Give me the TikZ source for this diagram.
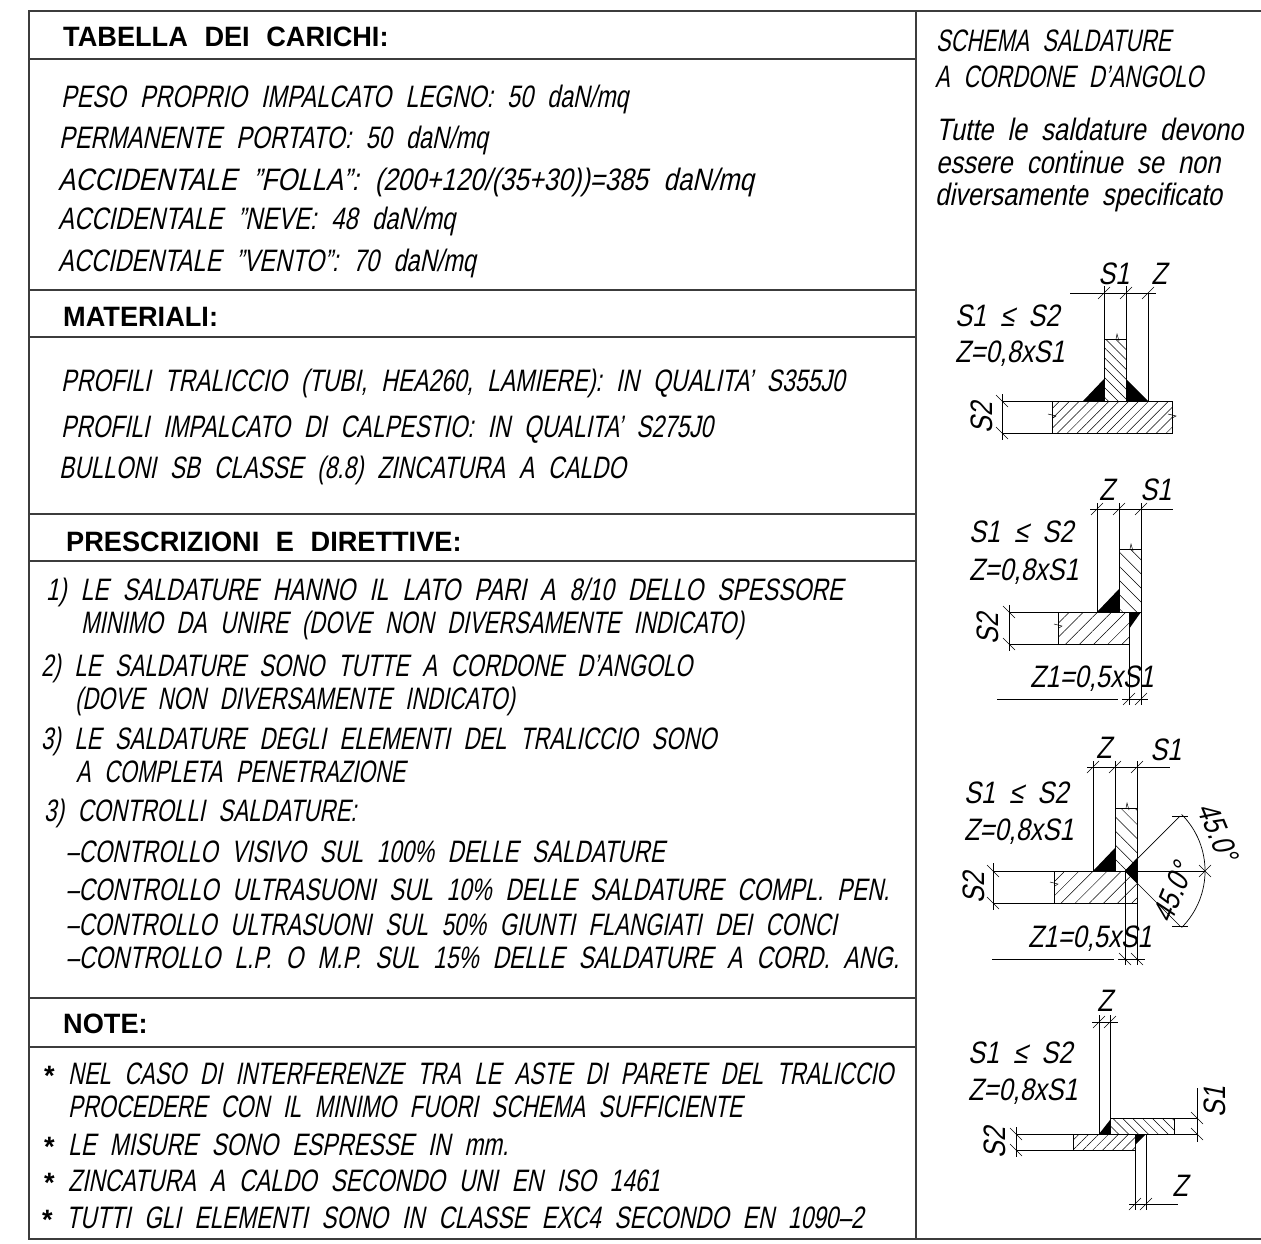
\documentclass[tikz,border=0pt]{standalone}
\usepackage{graphicx}
\usepackage{fontspec}
\usetikzlibrary{patterns.meta}
\newfontfamily\cadital[FakeSlant=0.2,FakeStretch=0.73,WordSpace=2.2]{Liberation Sans}
\newfontfamily\cadnote[FakeSlant=0.2,FakeStretch=0.82,WordSpace=2.0]{Liberation Sans}
\newfontfamily\cadhead[FakeStretch=0.97,WordSpace=2.2]{Liberation Sans}
\newcommand{\fitrow}[2]{\scalebox{#1}[1]{#2}}
\definecolor{frameline}{RGB}{60, 60, 60}

\begin{document}
\begin{tikzpicture}[
        x=1pt, y=-1pt,
        rowtext/.style={anchor=base west, inner sep=0pt, font=\cadital\fontsize{31}{31}\selectfont},
        notetext/.style={anchor=base west, inner sep=0pt, font=\cadnote\fontsize{31}{31}\selectfont},
        headtext/.style={anchor=base west, inner sep=0pt, font=\cadhead\bfseries\fontsize{28}{28}\selectfont},
        dimtext/.style={inner sep=0pt, font=\cadnote\fontsize{31}{31}\selectfont},
        frameedge/.style={draw=frameline, line width=1.3pt},
        member/.style={draw=black, line width=0.9pt},
        thinline/.style={draw=black, line width=0.7pt},
        dimtick/.style={draw=black, line width=0.5pt},
        weld/.style={fill=black},
        hatchfine/.style={pattern={Lines[angle=45,distance=7pt,line width=0.5pt]}},
        hatchback/.style={pattern={Lines[angle=-45,distance=7pt,line width=0.5pt]}},
        hatchwide/.style={pattern={Lines[angle=45,distance=10pt,line width=0.5pt]}},
        hatchwideback/.style={pattern={Lines[angle=-45,distance=10pt,line width=0.5pt]}}
    ]
        \useasboundingbox (0,0) rectangle (1261,1243);

        % table frame
        \draw[frameedge] (1261,11) -- (29,11) -- (29,1239) -- (1261,1239);
        \draw[frameedge] (916,11) -- (916,1239);
        \foreach \y in {59,290,337,514,561,998,1047}
            \draw[frameedge] (29,\y) -- (916,\y);

        % loads
        \node[headtext] (loadshead) at (63,46) {TABELLA DEI CARICHI:};
        \node[rowtext] (selfweight) at (61,107) {\fitrow{1.025}{PESO PROPRIO IMPALCATO LEGNO: 50 daN/mq}};
        \node[rowtext] (permanent) at (59,148) {\fitrow{1.034}{PERMANENTE PORTATO: 50 daN/mq}};
        \node[rowtext] (crowd) at (58,190) {\fitrow{1.14}{ACCIDENTALE ”FOLLA”: (200+120/(35+30))=385 daN/mq}};
        \node[rowtext] (snow) at (58,229) {\fitrow{1.05}{ACCIDENTALE ”NEVE: 48 daN/mq}};
        \node[rowtext] (wind) at (58,271) {\fitrow{1.04}{ACCIDENTALE ”VENTO”: 70 daN/mq}};

        % materials
        \node[headtext] (materialshead) at (63,326) {MATERIALI:};
        \node[rowtext] (matone) at (61,391) {\fitrow{1.014}{PROFILI TRALICCIO (TUBI, HEA260, LAMIERE): IN QUALITA’ S355J0}};
        \node[rowtext] (mattwo) at (61,437) {PROFILI IMPALCATO DI CALPESTIO: IN QUALITA’ S275J0};
        \node[rowtext] (matthree) at (59,478) {BULLONI SB CLASSE (8.8) ZINCATURA A CALDO};

        % prescriptions
        \node[headtext] (rulehead) at (66,551) {PRESCRIZIONI E DIRETTIVE:};
        \node[rowtext] (ruleonea) at (46,600) {\fitrow{1.013}{1) LE SALDATURE HANNO IL LATO PARI A 8/10 DELLO SPESSORE}};
        \node[rowtext] (ruleoneb) at (81,633) {\fitrow{0.97}{MINIMO DA UNIRE (DOVE NON DIVERSAMENTE INDICATO)}};
        \node[rowtext] (ruletwoa) at (41,676) {\fitrow{0.976}{2) LE SALDATURE SONO TUTTE A CORDONE D’ANGOLO}};
        \node[rowtext] (ruletwob) at (75,709) {\fitrow{0.965}{(DOVE NON DIVERSAMENTE INDICATO)}};
        \node[rowtext] (rulethreea) at (41,749) {\fitrow{0.977}{3) LE SALDATURE DEGLI ELEMENTI DEL TRALICCIO SONO}};
        \node[rowtext] (rulethreeb) at (76,782) {\fitrow{0.964}{A COMPLETA PENETRAZIONE}};
        \node[rowtext] (checkhead) at (44,821) {\fitrow{0.983}{3) CONTROLLI SALDATURE:}};
        \node[rowtext] (checkone) at (66,862) {\fitrow{0.988}{–CONTROLLO VISIVO SUL 100\% DELLE SALDATURE}};
        \node[rowtext] (checktwo) at (66,900) {\fitrow{0.993}{–CONTROLLO ULTRASUONI SUL 10\% DELLE SALDATURE COMPL. PEN.}};
        \node[rowtext] (checkthree) at (66,935) {\fitrow{0.98}{–CONTROLLO ULTRASUONI SUL 50\% GIUNTI FLANGIATI DEI CONCI}};
        \node[rowtext] (checkfour) at (66,968) {\fitrow{1.005}{–CONTROLLO L.P. O M.P. SUL 15\% DELLE SALDATURE A CORD. ANG.}};

        % notes
        \node[headtext] (noteshead) at (63,1033) {NOTE:};
        \node[headtext] (starone) at (44,1085) {*};
        \node[rowtext] (noteonea) at (68,1084) {\fitrow{0.97}{NEL CASO DI INTERFERENZE TRA LE ASTE DI PARETE DEL TRALICCIO}};
        \node[rowtext] (noteoneb) at (68,1117) {\fitrow{0.97}{PROCEDERE CON IL MINIMO FUORI SCHEMA SUFFICIENTE}};
        \node[headtext] (startwo) at (44,1156) {*};
        \node[rowtext] (notetwo) at (68,1155) {LE MISURE SONO ESPRESSE IN mm.};
        \node[headtext] (starthree) at (44,1192) {*};
        \node[rowtext] (notethree) at (68,1191) {ZINCATURA A CALDO SECONDO UNI EN ISO 1461};
        \node[headtext] (starfour) at (42,1229) {*};
        \node[rowtext] (notefour) at (66,1228) {TUTTI GLI ELEMENTI SONO IN CLASSE EXC4 SECONDO EN 1090–2};

        % right column
        \node[rowtext] (schemaa) at (936,51) {\fitrow{0.96}{SCHEMA SALDATURE}};
        \node[rowtext] (schemab) at (935,87) {\fitrow{0.97}{A CORDONE D’ANGOLO}};
        \node[notetext] (weldnotea) at (936,140) {Tutte le saldature devono};
        \node[notetext] (weldnoteb) at (936,173) {essere continue se non};
        \node[notetext] (weldnotec) at (935,205) {diversamente specificato};

        % first joint
        \draw[member, hatchback] (1104,339) rectangle (1126,401);
        \draw[member, hatchfine] (1052,401) rectangle (1172,433);
        \fill[weld] (1083,401) -- (1104,401) -- (1104,379) -- cycle;
        \fill[weld] (1126,401) -- (1148,401) -- (1126,379) -- cycle;
        \draw[thinline] (1104,286) -- (1104,339) (1126,286) -- (1126,339) (1148,293) -- (1148,401);
        \draw[thinline] (1070,293) -- (1156,293);
        \draw[thinline] (1002,401) -- (1052,401) (1002,433) -- (1052,433) (1002,394) -- (1002,440);
        \foreach \p in {(1104,293),(1126,293),(1148,293)}
            \draw[dimtick] \p ++(-6,6) -- ++(12,-12);
        \foreach \p in {(1002,401),(1002,433)}
            \draw[dimtick] \p ++(-6,-6) -- ++(12,12);
        \draw[dimtick] (1116,339) -- (1117,334) -- (1119,341);
        \draw[dimtick] (1048,414) -- (1056,416) -- (1053,418);
        \draw[dimtick] (1168,414) -- (1176,416) -- (1172,418);
        \node[dimtext] (sonea) at (1114,274) {S1};
        \node[dimtext] (zeda) at (1159,274) {Z};
        \node[notetext] (ruleaa) at (955,326) {S1 ≤ S2};
        \node[notetext] (ruleab) at (955,362) {Z=0,8xS1};
        \node[dimtext, rotate=90] (stwoa) at (982,418) {S2};

        % second joint
        \draw[member, hatchwideback] (1119,549) rectangle (1141,612);
        \draw[member, hatchwide] (1058,612) rectangle (1129,644);
        \fill[weld] (1097,612) -- (1119,612) -- (1119,589) -- cycle;
        \fill[weld] (1129,612) -- (1141,612) -- (1129,629) -- cycle;
        \draw[thinline] (1097,503) -- (1097,612) (1119,503) -- (1119,549) (1141,503) -- (1141,705) (1129,644) -- (1129,705);
        \draw[thinline] (1090,509) -- (1173,509);
        \draw[thinline] (997,699) -- (1118,699) (1122,699) -- (1148,699);
        \draw[thinline] (1009,612) -- (1058,612) (1009,644) -- (1058,644) (1009,605) -- (1009,651);
        \foreach \p in {(1097,509),(1119,509),(1141,509),(1129,699),(1141,699)}
            \draw[dimtick] \p ++(-6,6) -- ++(12,-12);
        \foreach \p in {(1009,612),(1009,644)}
            \draw[dimtick] \p ++(-6,-6) -- ++(12,12);
        \draw[dimtick] (1130,549) -- (1131,544) -- (1133,551);
        \draw[dimtick] (1054,624) -- (1062,626) -- (1059,628);
        \node[dimtext] (zedb) at (1107,490) {Z};
        \node[dimtext] (soneb) at (1156,490) {S1};
        \node[notetext] (ruleba) at (969,542) {S1 ≤ S2};
        \node[notetext] (rulebb) at (969,580) {Z=0,8xS1};
        \node[dimtext, rotate=90] (stwob) at (988,629) {S2};
        \node[notetext] (zonea) at (1030,687) {Z1=0,5xS1};

        % third joint
        \draw[member, hatchwideback] (1115,808) rectangle (1137,871);
        \draw[member, hatchwide] (1054,871) rectangle (1137,903);
        \fill[weld] (1093,871) -- (1115,871) -- (1115,848) -- cycle;
        \fill[weld] (1125,871) -- (1137,858) -- (1137,883) -- cycle;
        \draw[thinline] (1093,761) -- (1093,871) (1115,761) -- (1115,808) (1137,761) -- (1137,965) (1125,871) -- (1125,965);
        \draw[thinline] (1087,767) -- (1170,767);
        \draw[thinline] (992,959) -- (1114,959) (1118,959) -- (1145,959);
        \draw[thinline] (993,871) -- (1054,871) (993,903) -- (1054,903) (993,863) -- (993,910);
        \draw[thinline] (1125,871) -- (1180,816) (1125,871) -- (1180,926);
        \draw[member] (1125,871) -- (1205,871);
        \draw[thinline] (1181.6,814.4) arc[start angle=-45, end angle=45, radius=80];
        \draw[thinline] (1172,816) -- (1188,816) (1172,926) -- (1188,926);
        \foreach \p in {(1093,767),(1115,767),(1137,767),(1205,871)}
            \draw[dimtick] \p ++(-6,6) -- ++(12,-12);
        \foreach \p in {(993,871),(993,903),(1125,959),(1137,959),(1205,871)}
            \draw[dimtick] \p ++(-6,-6) -- ++(12,12);
        \draw[dimtick] (1126,808) -- (1127,803) -- (1129,810);
        \draw[dimtick] (1050,882) -- (1058,884) -- (1055,886);
        \node[dimtext] (zedc) at (1104,748) {Z};
        \node[dimtext] (sonec) at (1166,750) {S1};
        \node[notetext] (ruleca) at (964,803) {S1 ≤ S2};
        \node[notetext] (rulecb) at (964,840) {Z=0,8xS1};
        \node[dimtext, rotate=90] (stwoc) at (974,888) {S2};
        \node[notetext] (zoneb) at (1028,947) {Z1=0,5xS1};
        \node[dimtext, rotate=-67.5] (angleup) at (1218,832) {45.0°};
        \node[dimtext, rotate=67.5] (angledown) at (1173,893) {45.0°};

        % fourth joint
        \draw[member, hatchback] (1110,1118) rectangle (1174,1134);
        \draw[member, hatchfine] (1073,1134) rectangle (1135,1150);
        \fill[weld] (1099,1134) -- (1110,1134) -- (1110,1120) -- cycle;
        \fill[weld] (1135,1134) -- (1146,1134) -- (1135,1145) -- cycle;
        \draw[thinline] (1099,1015) -- (1099,1134) (1110,1015) -- (1110,1118) (1135,1150) -- (1135,1210) (1146,1134) -- (1146,1210);
        \draw[thinline] (1092,1022) -- (1118,1022) (1129,1204) -- (1178,1204);
        \draw[thinline] (1174,1118) -- (1197,1118) (1174,1134) -- (1197,1134) (1197,1088) -- (1197,1142);
        \draw[thinline] (1016,1134) -- (1073,1134) (1016,1150) -- (1073,1150) (1016,1127) -- (1016,1157);
        \foreach \p in {(1099,1022),(1110,1022),(1135,1204),(1146,1204)}
            \draw[dimtick] \p ++(-6,6) -- ++(12,-12);
        \foreach \p in {(1197,1118),(1197,1134),(1016,1134),(1016,1150)}
            \draw[dimtick] \p ++(-6,-6) -- ++(12,12);
        \node[dimtext] (zedd) at (1105,1001) {Z};
        \node[dimtext] (zede) at (1180,1186) {Z};
        \node[notetext] (ruleda) at (968,1063) {S1 ≤ S2};
        \node[notetext] (ruledb) at (968,1100) {Z=0,8xS1};
        \node[dimtext, rotate=90] (soned) at (1215,1102) {S1};
        \node[dimtext, rotate=90] (stwod) at (995,1143) {S2};
    \end{tikzpicture}
\end{document}
